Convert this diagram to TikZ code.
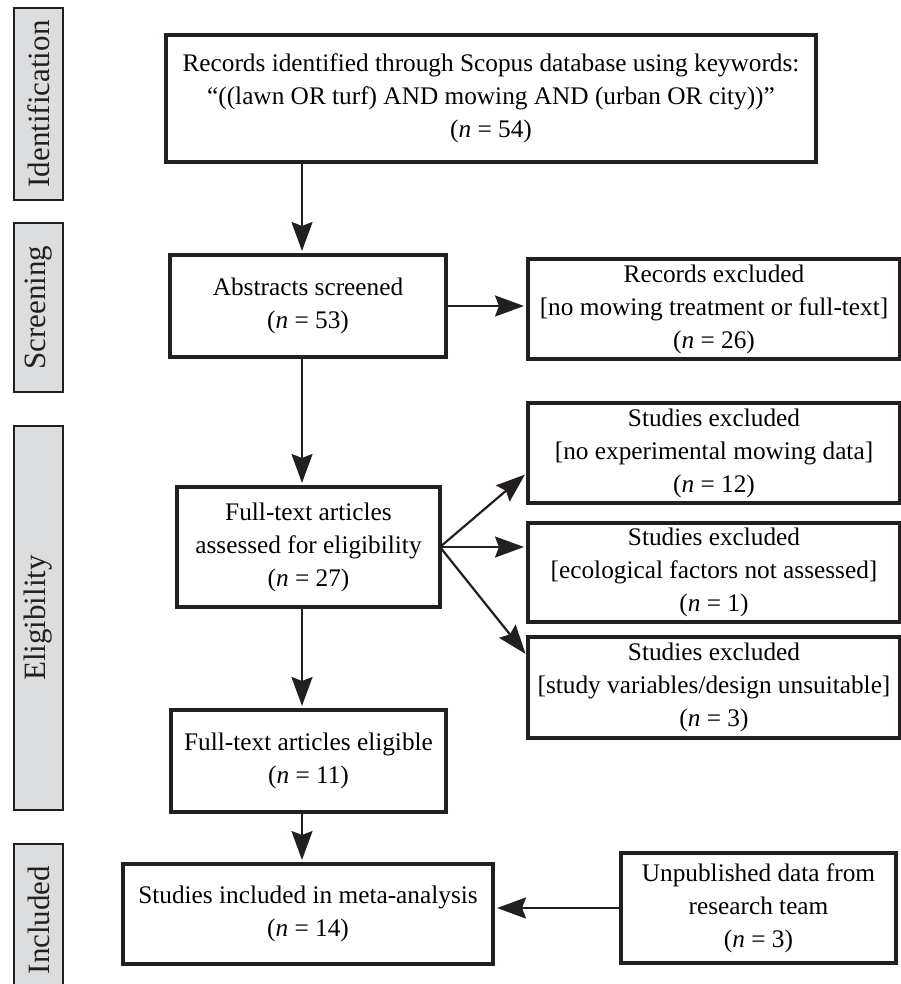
\documentclass[tikz,border=0pt]{standalone}
\usepackage{fontspec}
\setmainfont{Liberation Serif}
\usetikzlibrary{arrows.meta,calc}
\definecolor{ink}{HTML}{231F20}
\definecolor{sidefill}{HTML}{DCDDDE}
\begin{document}
\begin{tikzpicture}[x=1pt,y=-1pt,
  box/.style={draw=ink,line width=3.4pt,inner sep=0pt,outer sep=0pt,align=center,text=black,
    font=\fontsize{25.3}{33}\selectfont},
  side/.style={draw=ink,fill=sidefill,line width=2.8pt,inner sep=0pt,outer sep=0pt,
    text=ink,rotate=90,font=\fontsize{31}{36}\selectfont},
  arr/.style={draw=ink,line width=2.2pt,-{Stealth[length=29pt,width=21pt,inset=4pt]},shorten >=4pt}]
\useasboundingbox (0,0) rectangle (901,984);
% side labels
\node[side,minimum width=192,minimum height=49] (sid) at (38.5,104) {Identification};
\node[side,minimum width=169,minimum height=49] (ssc) at (38.5,307.5) {Screening};
\node[side,minimum width=384,minimum height=49] (sel) at (38.5,618) {Eligibility};
\node[side,minimum width=152,minimum height=49] (sin) at (38.5,920) {Included};
% main boxes
\node[box,minimum width=650,minimum height=127] (top) at (491,98.5)
  {Records identified through Scopus database using keywords:\\
   “((lawn OR turf) AND mowing AND (urban OR city))”\\(\textit{n} = 54)};
\node[box,minimum width=276,minimum height=102] (abs) at (308,306)
  {Abstracts screened\\(\textit{n} = 53)};
\node[box,minimum width=372,minimum height=100] (rex) at (714,309)
  {Records excluded\\{}[no mowing treatment or full-text]\\(\textit{n} = 26)};
\node[box,minimum width=263,minimum height=120] (fta) at (308.5,547)
  {Full-text articles\\assessed for eligibility\\(\textit{n} = 27)};
\node[box,minimum width=372,minimum height=100] (se1) at (714,453)
  {Studies excluded\\{}[no experimental mowing data]\\(\textit{n} = 12)};
\node[box,minimum width=372,minimum height=99] (se2) at (714,572.5)
  {Studies excluded\\{}[ecological factors not assessed]\\(\textit{n} = 1)};
\node[box,minimum width=372,minimum height=101] (se3) at (714,687.5)
  {Studies excluded\\{}[study variables/design unsuitable]\\(\textit{n} = 3)};
\node[box,minimum width=275,minimum height=102] (fte) at (308.5,761)
  {Full-text articles eligible\\(\textit{n} = 11)};
\node[box,minimum width=370,minimum height=100] (inc) at (308,914)
  {Studies included in meta-analysis\\(\textit{n} = 14)};
\node[box,minimum width=275,minimum height=110] (unp) at (758.5,908)
  {Unpublished data from\\research team\\(\textit{n} = 3)};
% connectors
\coordinate (col) at (302,0);
\draw[arr] (top.south -| col) -- (abs.north -| col);
\draw[arr] (abs.south -| col) -- (fta.north -| col);
\draw[arr] (fta.south -| col) -- (fte.north -| col);
\draw[arr] (fte.south -| col) -- (inc.north -| col);
\draw[arr] (abs.east) -- (abs.east -| rex.west);
\draw[arr] (fta.east) -- ($(se1.south west)+(0,-31)$);
\draw[arr] (fta.east) -- (fta.east -| se2.west);
\draw[arr] (fta.east) -- ($(se3.north west)+(0,20)$);
\draw[arr] (unp.west) -- (unp.west -| inc.east);
\end{tikzpicture}
\end{document}
